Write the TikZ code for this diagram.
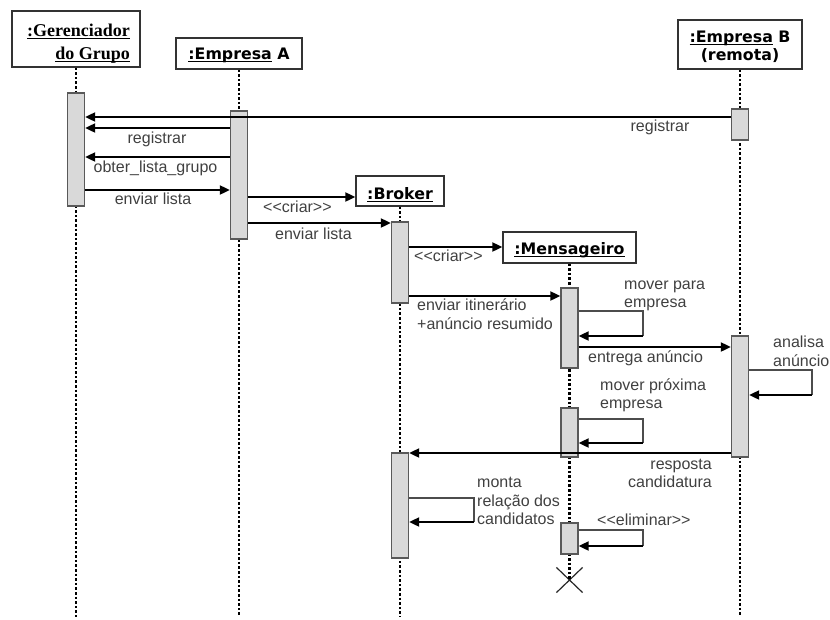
\documentclass[tikz,border=0pt]{standalone}
\usepackage{fontspec}
\setmainfont{Liberation Sans}
\newfontfamily\hdrfont{DejaVu Sans}
\newfontfamily\serifhdrfont{Liberation Serif}
\usetikzlibrary{arrows.meta,shapes.misc}
% underline set at a fixed depth below the baseline
\newsavebox\undlbox
\newcommand\undl[1]{\sbox\undlbox{#1}\rlap{\rule[-2.7pt]{\wd\undlbox}{1.1pt}}\usebox\undlbox}

\begin{document}
\begin{tikzpicture}[x=1pt,y=-1pt,
  objbox/.style={draw=black!80, line width=1.3pt, fill=white, inner sep=0pt},
  hdr/.style={font=\hdrfont\fontsize{15.8}{19}\selectfont\bfseries, inner sep=0pt, anchor=base},
  serifhdr/.style={font=\serifhdrfont\fontsize{18}{22}\selectfont\bfseries, inner sep=0pt, anchor=base east},
  act/.style={draw=black!65, line width=1.3pt, fill=black!15, minimum width=17pt, inner sep=0pt},
  life/.style={line width=2.3pt, dash pattern=on 2.6pt off 2pt, black},
  msg/.style={line width=1.9pt, -{Triangle[length=10pt,width=9pt]}},
  loopline/.style={line width=1.2pt, black!70},
  lbl/.style={font=\fontsize{16}{19}\selectfont, text=black!75, inner sep=0pt},
  kill/.style={cross out, draw=black!85, line width=1.2pt, minimum width=25pt, minimum height=24pt, inner sep=0pt},
]
\useasboundingbox (0,0) rectangle (830,619);

% object boxes
\node[objbox, minimum width=128pt, minimum height=56pt] (ger) at (76,39) {};
\node[serifhdr] (gerT1) at (130,36.5) {\undl{:Gerenciador}};
\node[serifhdr] (gerT2) at (130,59.5) {\undl{do Grupo}};

\node[objbox, minimum width=126pt, minimum height=31pt] (empA) at (239,53.5) {};
\node[hdr] (empAT) at (239,59.3) {\undl{:Empresa} A};

\node[objbox, minimum width=124pt, minimum height=49pt] (empB) at (740,44.5) {};
\node[hdr] (empBT1) at (740,42.7) {\undl{:Empresa} B};
\node[hdr] (empBT2) at (740,60) {(remota)};

\node[objbox, minimum width=88pt, minimum height=30pt] (brk) at (400,191) {};
\node[hdr] (brkT) at (400,199.3) {\undl{:Broker}};

\node[objbox, minimum width=133pt, minimum height=31pt] (mens) at (569.5,247.5) {};
\node[hdr] (mensT) at (569.5,254.3) {\undl{:Mensageiro}};

% end of the messenger's life
\node[kill] (fim) at (569.5,580) {};

% lifelines
\draw[life] (ger.south) -- (ger.south |- 0,617);
\draw[life] (empA.south) -- (empA.south |- 0,617);
\draw[life] (brk.south) -- (brk.south |- 0,617);
\draw[life] (mens.south) -- (fim.center);
\draw[life] (empB.south) -- (empB.south |- 0,617);

% activation bars
\node[act, minimum height=113pt] (g1) at (76,149.5) {};
\node[act, minimum height=128pt] (a1) at (239,175) {};
\node[act, minimum height=31pt]  (b1) at (740,124.5) {};
\node[act, minimum height=121pt] (b2) at (740,396.5) {};
\node[act, minimum height=81pt]  (k1) at (400,262.5) {};
\node[act, minimum height=105pt] (k2) at (400,505.5) {};
\node[act, minimum height=80pt]  (m1) at (569.5,328) {};
\node[act, minimum height=49pt]  (m2) at (569.5,432.5) {};
\node[act, minimum height=31pt]  (m3) at (569.5,538.5) {};

% messages
\draw[msg] (b1.west |- 0,117) -- (g1.east |- 0,117);
\draw[msg] (a1.west |- 0,128) -- (g1.east |- 0,128);
\draw[msg] (a1.west |- 0,157) -- (g1.east |- 0,157);
\draw[msg] (g1.east |- 0,190) -- (a1.west |- 0,190);
\draw[msg] (a1.east |- 0,197) -- (brk.west |- 0,197);
\draw[msg] (a1.east |- 0,223) -- (k1.west |- 0,223);
\draw[msg] (k1.east |- 0,247) -- (mens.west |- 0,247);
\draw[msg] (k1.east |- 0,296) -- (m1.west |- 0,296);
\draw[msg] (m1.east |- 0,347) -- (b2.west |- 0,347);
\draw[msg] (b2.west |- 0,453) -- (k2.east |- 0,453);

% self messages
\coordinate (s1a) at (643,311); \coordinate (s1b) at (643,336);
\draw[loopline] (m1.east |- s1a) -- (s1a) -- (s1b);
\draw[msg] (s1b) -- (m1.east |- s1b);

\coordinate (s2a) at (812,370); \coordinate (s2b) at (812,395);
\draw[loopline] (b2.east |- s2a) -- (s2a) -- (s2b);
\draw[msg] (s2b) -- (b2.east |- s2b);

\coordinate (s3a) at (643,419); \coordinate (s3b) at (643,443);
\draw[loopline] (m2.east |- s3a) -- (s3a) -- (s3b);
\draw[msg] (s3b) -- (m2.east |- s3b);

\coordinate (s4a) at (474,498); \coordinate (s4b) at (474,522);
\draw[loopline] (k2.east |- s4a) -- (s4a) -- (s4b);
\draw[msg] (s4b) -- (k2.east |- s4b);

\coordinate (s5a) at (643,530); \coordinate (s5b) at (643,546);
\draw[loopline] (m3.east |- s5a) -- (s5a) -- (s5b);
\draw[msg] (s5b) -- (m3.east |- s5b);

% message labels
\node[lbl, anchor=mid] (l1) at (660,129) {registrar};
\node[lbl, anchor=mid] (l2) at (157,141) {registrar};
\node[lbl, anchor=mid] (l3) at (155.5,170) {obter\_lista\_grupo};
\node[lbl, anchor=mid] (l4) at (153,202) {enviar lista};
\node[lbl, anchor=mid west] (l5) at (263,210) {<{}<criar>{}>};
\node[lbl, anchor=mid west] (l6) at (275,237) {enviar lista};
\node[lbl, anchor=mid west] (l7) at (414,259) {<{}<criar>{}>};
\node[lbl, anchor=mid west] (l8a) at (417,308) {enviar itinerário};
\node[lbl, anchor=mid west] (l8b) at (417,327) {+anúncio resumido};
\node[lbl, anchor=mid west] (l9a) at (624,287) {mover para};
\node[lbl, anchor=mid west] (l9b) at (624,305) {empresa};
\node[lbl, anchor=mid west] (l10) at (588,360) {entrega anúncio};
\node[lbl, anchor=mid west] (l11a) at (773,345) {analisa};
\node[lbl, anchor=mid west] (l11b) at (773,364) {anúncio};
\node[lbl, anchor=mid west] (l12a) at (600,388) {mover próxima};
\node[lbl, anchor=mid west] (l12b) at (600,406) {empresa};
\node[lbl, anchor=mid east] (l13a) at (712,467) {resposta};
\node[lbl, anchor=mid east] (l13b) at (712,485) {candidatura};
\node[lbl, anchor=mid west] (l14a) at (477,485) {monta};
\node[lbl, anchor=mid west] (l14b) at (477,504) {relação dos};
\node[lbl, anchor=mid west] (l14c) at (477,522) {candidatos};
\node[lbl, anchor=mid west] (l15) at (597,523) {<{}<eliminar>{}>};
\end{tikzpicture}
\end{document}
